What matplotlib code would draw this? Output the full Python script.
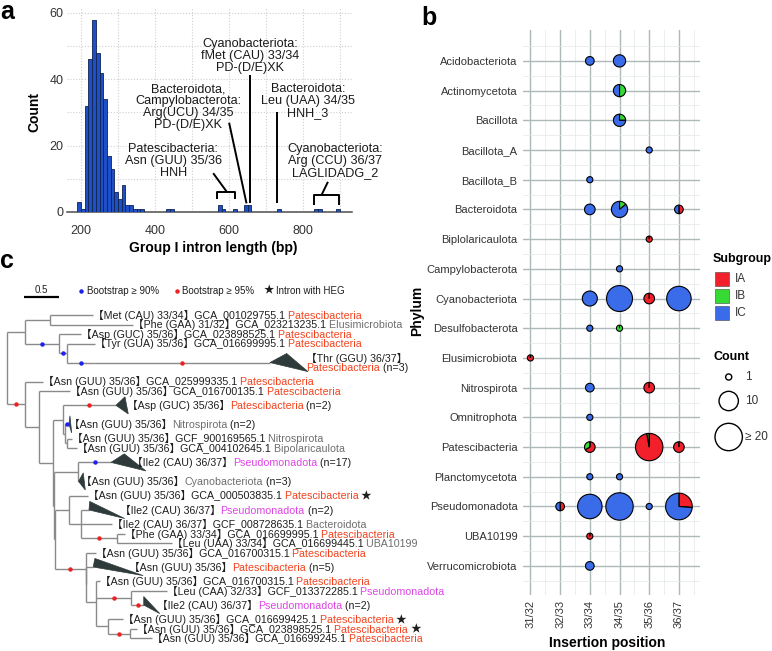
import numpy as np
import matplotlib
matplotlib.use("Agg")
import matplotlib.pyplot as plt
from matplotlib.patches import Wedge, Polygon, Rectangle, Circle
from matplotlib.transforms import ScaledTranslation

plt.rcParams['font.family'] = ['Liberation Sans', 'Noto Sans CJK JP', 'DejaVu Sans']

# ---------------- panel a data ----------------
length_bin_start = [190, 200, 210, 220, 230, 240, 250, 260, 270, 280, 290, 300,
                    310, 320, 330, 340, 350, 360, 430, 440, 570, 580, 610,
                    640, 650, 730, 830, 840, 890]
length_counts = [3, 1, 32, 46, 58, 48, 42, 34, 17, 13, 6, 4,
                 8, 2, 2, 1, 1, 1, 1, 1, 2, 1, 1,
                 2, 2, 1, 1, 1, 1]
heg_labels = ["Cyanobacteriota:\nfMet (CAU) 33/34\nPD-(D/E)XK",
              "Bacteroidota,\nCampylobacterota:\nArg(UCU) 34/35\nPD-(D/E)XK",
              "Bacteroidota:\nLeu (UAA) 34/35\nHNH_3",
              "Patescibacteria:\nAsn (GUU) 35/36\nHNH",
              "Cyanobacteriota:\nArg (CCU) 36/37\nLAGLIDADG_2"]

# ---------------- panel b data ----------------
phyla = ["Acidobacteriota", "Actinomycetota", "Bacillota", "Bacillota_A", "Bacillota_B",
         "Bacteroidota", "Biplolaricaulota", "Campylobacterota", "Cyanobacteriota",
         "Desulfobacterota", "Elusimicrobiota", "Nitrospirota", "Omnitrophota",
         "Patescibacteria", "Planctomycetota", "Pseudomonadota", "UBA10199",
         "Verrucomicrobiota"]
positions = ["31/32", "32/33", "33/34", "34/35", "35/36", "36/37"]
pie_phylum = ["Acidobacteriota", "Acidobacteriota", "Actinomycetota", "Bacillota",
              "Bacillota_A", "Bacillota_B", "Bacteroidota", "Bacteroidota", "Bacteroidota",
              "Biplolaricaulota", "Campylobacterota", "Cyanobacteriota", "Cyanobacteriota",
              "Cyanobacteriota", "Cyanobacteriota", "Desulfobacterota", "Desulfobacterota",
              "Elusimicrobiota", "Nitrospirota", "Nitrospirota", "Omnitrophota",
              "Patescibacteria", "Patescibacteria", "Patescibacteria", "Planctomycetota",
              "Planctomycetota", "Pseudomonadota", "Pseudomonadota", "Pseudomonadota",
              "Pseudomonadota", "Pseudomonadota", "UBA10199", "Verrucomicrobiota"]
pie_position = ["33/34", "34/35", "34/35", "34/35",
                "35/36", "33/34", "33/34", "34/35", "36/37",
                "35/36", "34/35", "33/34", "34/35",
                "35/36", "36/37", "33/34", "34/35",
                "31/32", "33/34", "35/36", "33/34",
                "33/34", "35/36", "36/37", "33/34",
                "34/35", "32/33", "33/34", "34/35",
                "35/36", "36/37", "33/34", "33/34"]
pie_IA = [0, 0, 0, 0, 0, 0, 0, 0, 1, 1, 0, 0, 0, 3, 0, 0, 0,
          1, 0, 3, 0, 2, 35, 3, 0, 0, 1, 0, 0, 0, 5, 1, 0]
pie_IB = [0, 0, 2, 1, 0, 0, 0, 1, 0, 0, 0, 0, 0, 0, 0, 0, 1,
          0, 0, 0, 0, 1, 1, 0, 0, 0, 0, 0, 0, 0, 0, 0, 0]
pie_IC = [2, 4, 2, 3, 1, 1, 3, 6, 1, 0, 1, 6, 18, 0, 16, 1, 0,
          0, 2, 0, 1, 0, 0, 0, 1, 1, 1, 16, 30, 1, 14, 0, 2]
subgroups = ["IA", "IB", "IC"]
subgroup_colors = ["#F1202B", "#35DA35", "#3A6BE8"]
size_breaks = [1, 10, 20]
size_labels = ["1", "10", "\u2265 20"]

# ---------------- panel c data (tree) ----------------
K, GR, PT, PS = '#1E1E1E', '#6E6E6E', '#F2431E', '#DE45E6'


def nd(bl, kids, sup=None):
    return dict(bl=bl, kids=kids, sup=sup)


def lf(bl, lines, sup=None):
    return dict(bl=bl, lines=lines, sup=sup, slots=1)


def cl(bl, dmin, dmax, lab, lines, sup=None, slots=2):
    return dict(bl=bl, lines=lines, sup=sup, slots=slots, tri=(dmin, dmax), lab=lab)


def acc(prefix, phylum, col, star=False):
    parts = [(prefix, K), (' ' + phylum, col)]
    if star:
        parts.append((' \u2605', K))
    return [parts]


def coll(prefix, phylum, col, n):
    return [[(prefix, K), (phylum, col), (' (n=%d)' % n, K)]]


tree = nd(0, [
    nd(0.253, [
        nd(0.357, [lf(0.614, acc('【Met (CAU) 33/34】GCA_001029755.1', 'Patescibacteria', PT)),
                   lf(1.186, acc('【Phe (GAA) 31/32】GCA_023213235.1', 'Elusimicrobiota', GR))]),
        nd(0.490, [lf(0.310, acc('【Asp (GUC) 35/36】GCA_023898525.1', 'Patescibacteria', PT)),
                   nd(0.114, [lf(0.396, acc('【Tyr (GUA) 35/36】GCA_016699995.1', 'Patescibacteria', PT)),
                              nd(0.381, [cl(2.514, 0.239, 0.543, 0.514,
                                            [[('【Thr (GGU) 36/37】', K)],
                                             [('Patescibacteria', PT), (' (n=3)', K)]],
                                            'r', slots=3)], 'b')], 'b')], 'b'),
    ]),
    nd(0.253, [
        lf(0.257, acc('【Asn (GUU) 35/36】GCA_025999335.1', 'Patescibacteria', PT)),
        nd(0.204, [
            lf(0.439, acc('【Asn (GUU) 35/36】GCA_016700135.1', 'Patescibacteria', PT)),
            nd(0.200, [
                nd(0.134, [
                    cl(0.761, 0.129, 0.176, 0.153, coll('【Asp (GUC) 35/36】', 'Patescibacteria', PT, 2), 'r'),
                    nd(0.033, [
                        cl(0.057, 0.014, 0.039, 0.0, coll('【Asn (GUU) 35/36】', 'Nitrospirota', GR, 2), 'b'),
                        nd(0.029, [lf(0.071, acc('【Asn (GUU) 35/36】GCF_900169565.1', 'Nitrospirota', GR)),
                                   lf(0.143, acc('【Asn (GUU) 35/36】GCA_004102645.1', 'Bipolaricaulota', GR))]),
                    ]),
                ]),
                nd(0.010, [
                    nd(0.347, [
                        cl(0.467, 0.190, 0.500, 0.300, coll('【Ile2 (CAU) 36/37】', 'Pseudomonadota', PS, 17), 'b'),
                        cl(0.004, 0.067, 0.096, 0.039, coll('【Asn (GUU) 35/36】', 'Cyanobacteriota', GR, 3)),
                    ]),
                    nd(0.010, [
                        nd(0.204, [
                            lf(0.267, acc('【Asn (GUU) 35/36】GCA_000503835.1', 'Patescibacteria', PT, True)),
                            nd(0.177, [
                                cl(0.109, 0.010, 0.510, 0.439, coll('【Ile2 (CAU) 36/37】', 'Pseudomonadota', PS, 2)),
                                lf(0.433, acc('【Ile2 (CAU) 36/37】GCF_008728635.1', 'Bacteroidota', GR)),
                                nd(0.509, [lf(0.110, acc('【Phe (GAA) 33/34】GCA_016699995.1', 'Patescibacteria', PT)),
                                           lf(0.781, acc('【Leu (UAA) 33/34】GCA_016699445.1', 'UBA10199', GR))], 'r'),
                            ]),
                        ]),
                        nd(0.443, [
                            lf(0.143, acc('【Asn (GUU) 35/36】GCA_016700315.1', 'Patescibacteria', PT)),
                            nd(0.003, [
                                cl(0.104, 0.024, 0.714, 0.514, coll('【Asn (GUU) 35/36】', 'Patescibacteria', PT, 5)),
                                nd(0.150, [
                                    lf(0.047, acc('【Asn (GUU) 35/36】GCA_016700315.1', 'Patescibacteria', PT)),
                                    nd(0.500, [lf(0.504, acc('【Leu (CAA) 32/33】GCF_013372285.1', 'Pseudomonadota', PS)),
                                               cl(0.176, 0.0, 0.229, 0.196, coll('【Ile2 (CAU) 36/37】', 'Pseudomonadota', PS, 2), 'r')], 'r'),
                                    nd(0.166, [lf(0.210, acc('【Asn (GUU) 35/36】GCA_016699425.1', 'Patescibacteria', PT, True)),
                                               nd(0.320, [lf(0.090, acc('【Asn (GUU) 35/36】GCA_023898525.1', 'Patescibacteria', PT, True)),
                                                          lf(0.304, acc('【Asn (GUU) 35/36】GCA_016699245.1', 'Patescibacteria', PT))], 'r')]),
                                ]),
                            ]),
                        ], 'r'),
                    ]),
                ]),
            ]),
        ]),
    ], 'r'),
])

# ================= figure =================
W, H, DPI = 772, 651, 100
fig = plt.figure(figsize=(W / DPI, H / DPI), dpi=DPI)
fig.patch.set_facecolor('white')


def px_axes(x0, y0, x1, y1):
    return fig.add_axes([x0 / W, 1 - y1 / H, (x1 - x0) / W, (y1 - y0) / H])


TXT = '#333333'

# ---------------- panel a ----------------
axA = px_axes(67, 8, 352, 212)
axA.set_facecolor('none')
axA.bar(length_bin_start, length_counts, width=10, align='edge', color='#1F4FC6',
        edgecolor='#0F2350', linewidth=0.6, zorder=3)
axA.set_xlim(162, 932)
axA.set_ylim(0, 61.5)
axA.set_xticks([200, 400, 600, 800])
axA.set_xticks([300, 500, 700, 900], minor=True)
axA.set_yticks([0, 20, 40, 60])
axA.set_yticks([10, 30, 50], minor=True)
axA.grid(True, which='both', color='#CFCFCF', linestyle=(0, (1, 1.6)), linewidth=0.8)
axA.set_axisbelow(True)
for s in ['top', 'right', 'left']:
    axA.spines[s].set_visible(False)
axA.spines['bottom'].set_color('#4D4D4D')
axA.spines['bottom'].set_linewidth(1.1)
axA.tick_params(which='both', length=0)
axA.tick_params(axis='x', pad=9, labelsize=9, labelcolor=TXT)
axA.tick_params(axis='y', pad=2.7, labelsize=9, labelcolor=TXT)

ann_centers = [(657, 47), (490, 31.6), (813, 33.4), (449, 15.5), (886, 15.5)]
for txt, (xc, yc) in zip(heg_labels, ann_centers):
    axA.text(xc, yc, txt, ha='center', va='center', fontsize=9.1, linespacing=1.0,
             color='#1A1A1A', clip_on=False)
lk = dict(color='black', lw=1.4, clip_on=False, solid_capstyle='butt')
axA.plot([656, 656], [41.3, 2.6], **lk)
axA.plot([600, 647], [26.9, 2.6], **lk)
axA.plot([730, 730], [30.2, 2.6], **lk)
axA.plot([557, 593], [11.7, 6.2], **lk)
axA.plot([566, 566, 616, 616], [3.9, 6.1, 6.1, 3.9], **lk)
axA.plot([867, 850], [9.1, 5.2], **lk)
axA.plot([829, 829, 896, 896], [2.0, 5.1, 5.1, 2.0], **lk)

# ---------------- panel b ----------------
axB = px_axes(523, 30, 700, 595)
axB.set_facecolor('none')
axB.set_xlim(0.75, 6.71)
axB.set_ylim(17.98, -1.04)
axB.set_xticks(range(1, len(positions) + 1))
axB.set_xticklabels(positions, rotation=90)
axB.set_xticks(np.arange(1.5, len(positions) + 1, 1), minor=True)
axB.set_yticks(range(len(phyla)))
axB.set_yticklabels(phyla)
axB.set_yticks(np.arange(-0.5, len(phyla), 1), minor=True)
axB.grid(True, which='major', color='#AEBABA', linewidth=1.0)
axB.grid(True, which='minor', color='#E2E7E7', linewidth=0.5)
axB.set_axisbelow(True)
for s in axB.spines.values():
    s.set_visible(False)
axB.tick_params(which='both', length=0)
axB.tick_params(axis='x', pad=3.6, labelsize=8, labelcolor=TXT)
axB.tick_params(axis='y', pad=4, labelsize=8, labelcolor=TXT)

unit_px = 177 / 5.96


def rad_px(n):
    return 3.06 * np.sqrt(min(n, 20))


for ph, pos, a, b, c in zip(pie_phylum, pie_position, pie_IA, pie_IB, pie_IC):
    xc = positions.index(pos) + 1
    yc = phyla.index(ph)
    n = a + b + c
    r = rad_px(n) / unit_px
    start = 0.0
    for val, col in zip((a, b, c), subgroup_colors):
        frac = val / n
        t1 = -90 + start * 360
        t2 = -90 + (start + frac) * 360
        axB.add_patch(Wedge((xc, yc), r, t1, t2, facecolor=col, edgecolor='black',
                            linewidth=0.8, zorder=3))
        start += frac

# ---------------- panel c (tree) ----------------
X0, PXU, Y0, PXS = 7.3, 70.0, 315.0, 9.51
axT = px_axes(0, 280, 380, 651)
axT.set_xlim((0 - X0) / PXU, (380 - X0) / PXU)
axT.set_ylim((651 - Y0) / PXS, (280 - Y0) / PXS)
axT.axis('off')

cursor = [0.0]
nodes = []


def layout(node, x, parent_x):
    node['x'] = x
    node['px'] = parent_x
    if 'kids' in node:
        ys = [layout(k, x + k['bl'], x) for k in node['kids']]
        node['y'] = float(np.mean(ys))
        node['ymin'], node['ymax'] = min(ys), max(ys)
    else:
        s = node['slots']
        node['y'] = cursor[0] + s / 2 - 0.5
        cursor[0] += s
    nodes.append(node)
    return node['y']


layout(tree, 0.0, None)

BR = dict(color='#8A8A8A', lw=1.0, solid_capstyle='butt', clip_on=False)
sup_col = {'b': '#2020EE', 'r': '#EE2020'}
renderer = fig.canvas.get_renderer()
FS = 7.7


def draw_label(x, y, lines):
    for li, parts in enumerate(lines):
        if len(lines) == 1:
            yy = y
        else:
            yy = y + (-0.42 if li == 0 else 0.53)
        dx = 0.0
        for text, col in parts:
            tr = axT.transData + ScaledTranslation(dx / DPI, -3.8 / DPI, fig.dpi_scale_trans)
            t = axT.text(x, yy, text, color=col, fontsize=FS, ha='left', va='baseline',
                         transform=tr, clip_on=False)
            dx += t.get_window_extent(renderer=renderer).width


for nd_ in nodes:
    if nd_['px'] is not None:
        axT.plot([nd_['px'], nd_['x']], [nd_['y'], nd_['y']], **BR)
    if 'kids' in nd_ and len(nd_['kids']) > 1:
        axT.plot([nd_['x'], nd_['x']], [nd_['ymin'], nd_['ymax']], **BR)

for nd_ in nodes:
    if 'tri' in nd_:
        dmin, dmax = nd_['tri']
        x, y = nd_['x'], nd_['y']
        hh = 0.9 if nd_['slots'] <= 2 else 0.95
        axT.add_patch(Polygon([(x, y), (x + dmin, y - hh), (x + dmax, y + hh)], closed=True,
                              facecolor='#2F3B3B', edgecolor='#2F3B3B', lw=0.5, zorder=3,
                              clip_on=False))
        draw_label(x + nd_['lab'], y, nd_['lines'])
    elif 'lines' in nd_:
        draw_label(nd_['x'], nd_['y'], nd_['lines'])

for nd_ in nodes:
    if nd_.get('sup') and nd_['px'] is not None:
        axT.plot([(nd_['px'] + nd_['x']) / 2], [nd_['y']], 'o', ms=3.2,
                 color=sup_col[nd_['sup']], mec='none', zorder=5, clip_on=False)

# scale bar
sb_y = (296.7 - Y0) / PXS
axT.plot([(24 - X0) / PXU, (24 - X0) / PXU + 0.5], [sb_y, sb_y], color='black', lw=1.6,
         clip_on=False, solid_capstyle='butt')

# ---------------- overlay for labels / legends ----------------
ov = fig.add_axes([0, 0, 1, 1])
ov.set_xlim(0, W)
ov.set_ylim(H, 0)
ov.axis('off')
ov.patch.set_alpha(0)

# panel letters
for L_, x_, y_ in [('a', 0, 18.8), ('b', 421, 25), ('c', 0, 268)]:
    ov.text(x_, y_, L_, fontsize=18, fontweight='bold', ha='left', va='baseline', color='black')

# axis titles
ov.text(34, 112.5, 'Count', rotation=90, fontsize=10, fontweight='bold', ha='center', va='center')
ov.text(213, 248.3, 'Group I intron length (bp)', fontsize=10, fontweight='bold', ha='center', va='center')
ov.text(417, 311, 'Phylum', rotation=90, fontsize=10, fontweight='bold', ha='center', va='center')
ov.text(607, 643, 'Insertion position', fontsize=10, fontweight='bold', ha='center', va='center')

# subgroup legend
ov.text(713, 259, 'Subgroup', fontsize=9, fontweight='bold', ha='left', va='center')
for i, (sg, col) in enumerate(zip(subgroups, subgroup_colors)):
    yc = 279 + i * 17
    ov.add_patch(Rectangle((715, yc - 7.2), 14.4, 14.4, facecolor=col, edgecolor='#444444', lw=0.4))
    ov.text(735, yc, sg, fontsize=8.5, ha='left', va='center', color=TXT)

# count legend
ov.text(713, 357, 'Count', fontsize=9, fontweight='bold', ha='left', va='center')
for brk, lab, yc in zip(size_breaks, size_labels, [377, 401, 437]):
    ov.add_patch(Circle((728.7, yc), rad_px(brk), facecolor='white', edgecolor='black', lw=1.0))
    ov.text(745, yc, lab, fontsize=8.5, ha='left', va='center', color=TXT)

# tree legend row
ov.text(41.5, 290.3, '0.5', fontsize=7, ha='center', va='center', color=K)
ov.plot([81], [290.7], 'o', ms=3.2, color='#2020EE', mec='none')
ov.text(87, 290.7, 'Bootstrap \u2265 90%', fontsize=7, ha='left', va='center', color=K)
ov.plot([176.7], [290.7], 'o', ms=3.2, color='#EE2020', mec='none')
ov.text(182, 290.7, 'Bootstrap \u2265 95%', fontsize=7, ha='left', va='center', color=K)
ov.text(264, 290.7, '\u2605', fontsize=7.5, ha='left', va='center', color=K)
ov.text(276, 290.7, 'Intron with HEG', fontsize=7, ha='left', va='center', color=K)

fig.savefig('out.png', dpi=DPI)
